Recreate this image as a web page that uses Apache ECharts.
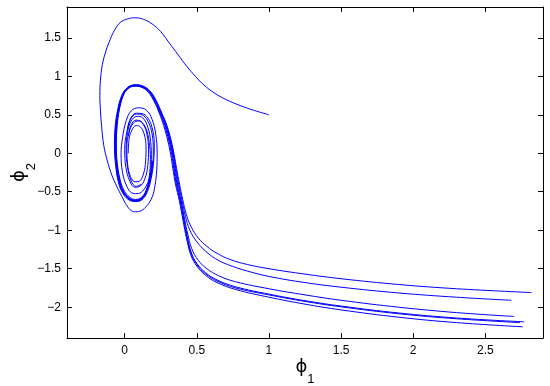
<!DOCTYPE html>
<html>
<head>
<meta charset="utf-8">
<script src="https://cdn.jsdelivr.net/npm/echarts@6/dist/echarts.min.js"></script>
<style>html,body{margin:0;padding:0;background:#fff}#c{width:550px;height:386px}</style>
</head>
<body>
<div id="c"></div>
<script>
var xTicks = [0, 0.5, 1, 1.5, 2, 2.5];
var yTicks = [-2, -1.5, -1, -0.5, 0, 0.5, 1, 1.5];
var xName = 'ϕ1';
var yName = 'ϕ2';

var trajOuter = [[1.00,0.50],[0.90,0.555],[0.80,0.62],[0.70,0.70],[0.62,0.785],[0.55,0.885],[0.49,1.00],[0.43,1.13],[0.37,1.28],[0.31,1.43],[0.25,1.58],[0.19,1.68],[0.13,1.74],[0.075,1.76],[0.02,1.745],[-0.03,1.70],[-0.07,1.60],[-0.10,1.48],[-0.13,1.33],[-0.155,1.15],[-0.168,0.95],[-0.172,0.75],[-0.168,0.55],[-0.16,0.35],[-0.145,0.1],[-0.12,-0.1],[-0.09,-0.28],[-0.055,-0.43],[-0.02,-0.56],[0.015,-0.68],[0.045,-0.745],[0.075,-0.76],[0.115,-0.745],[0.155,-0.68],[0.19,-0.57],[0.21,-0.42],[0.222,-0.22],[0.225,0.0],[0.215,0.25],[0.19,0.44],[0.15,0.56],[0.095,0.59],[0.045,0.55],[0.01,0.42],[-0.015,0.2],[-0.025,0.0],[-0.015,-0.25],[0.015,-0.43],[0.05,-0.515],[0.085,-0.525],[0.125,-0.49],[0.16,-0.38],[0.19,-0.2],[0.198,0.03],[0.19,0.25],[0.16,0.42],[0.12,0.50],[0.08,0.51],[0.04,0.44],[0.015,0.28],[0.0,0.05],[0.008,-0.18],[0.035,-0.36],[0.07,-0.44],[0.105,-0.43],[0.14,-0.33],[0.16,-0.16],[0.165,0.05],[0.155,0.24],[0.13,0.37],[0.095,0.42],[0.06,0.39],[0.03,0.27],[0.015,0.08],[0.02,-0.14],[0.04,-0.30],[0.07,-0.37],[0.1,-0.365],[0.13,-0.27],[0.145,-0.1],[0.148,0.08],[0.135,0.25],[0.11,0.34],[0.08,0.36],[0.05,0.30],[0.03,0.18],[0.025,0.0]];

var trajA = [[2.82,-1.81],[2.3,-1.76],[1.9,-1.705],[1.5,-1.63],[1.25,-1.57],[1.0,-1.50],[0.85,-1.445],[0.73,-1.38],[0.64,-1.30],[0.57,-1.21],[0.51,-1.10],[0.462,-0.96],[0.428,-0.80],[0.402,-0.60],[0.38,-0.40],[0.36,-0.2],[0.343,-0.02],[0.323,0.16],[0.293,0.36],[0.258,0.52],[0.222,0.67],[0.179,0.80],[0.128,0.872],[0.075,0.89],[0.022,0.857],[-0.02,0.752],[-0.049,0.56],[-0.067,0.33],[-0.071,0.1],[-0.063,-0.15],[-0.043,-0.38],[-0.013,-0.52],[0.03,-0.607],[0.076,-0.627],[0.12,-0.603],[0.157,-0.50],[0.183,-0.33],[0.2,-0.12],[0.205,0.12],[0.19,0.33],[0.16,0.46],[0.12,0.515],[0.08,0.52],[0.04,0.45],[0.02,0.30]];

var trajB = [[2.68,-1.91],[2.3,-1.87],[1.9,-1.815],[1.5,-1.74],[1.25,-1.68],[1.0,-1.60],[0.85,-1.53],[0.72,-1.45],[0.63,-1.37],[0.56,-1.27],[0.50,-1.15],[0.452,-1.00],[0.421,-0.82],[0.397,-0.61],[0.374,-0.40],[0.355,-0.2],[0.339,-0.02],[0.319,0.16],[0.289,0.36],[0.255,0.52],[0.219,0.67],[0.177,0.80],[0.126,0.868],[0.074,0.886],[0.022,0.852],[-0.016,0.75],[-0.042,0.57],[-0.058,0.36],[-0.064,0.12],[-0.057,-0.13],[-0.037,-0.36],[-0.008,-0.50],[0.034,-0.59],[0.076,-0.615],[0.115,-0.59],[0.15,-0.48],[0.175,-0.30],[0.185,-0.08],[0.18,0.15],[0.16,0.34],[0.125,0.46],[0.085,0.48],[0.045,0.42],[0.02,0.27],[0.01,0.05],[0.02,-0.18],[0.045,-0.36],[0.08,-0.43],[0.115,-0.40]];

var trajC = [[2.70,-2.12],[2.3,-2.07],[1.9,-2.00],[1.5,-1.91],[1.25,-1.84],[1.0,-1.76],[0.77,-1.67],[0.65,-1.59],[0.57,-1.50],[0.51,-1.39],[0.465,-1.24],[0.437,-1.05],[0.415,-0.85],[0.392,-0.62],[0.368,-0.40],[0.35,-0.2],[0.335,-0.02],[0.315,0.16],[0.285,0.36],[0.252,0.52],[0.216,0.67],[0.174,0.80],[0.124,0.866],[0.072,0.884],[0.02,0.85],[-0.018,0.745],[-0.045,0.56],[-0.062,0.34],[-0.068,0.1],[-0.06,-0.15],[-0.04,-0.37],[-0.01,-0.51],[0.032,-0.60],[0.078,-0.62],[0.118,-0.60],[0.15,-0.49],[0.17,-0.31],[0.178,-0.08],[0.17,0.14],[0.148,0.32],[0.115,0.41],[0.08,0.43],[0.045,0.37],[0.025,0.22]];

var trajD1 = [[2.77,-2.19],[2.3,-2.14],[1.9,-2.075],[1.5,-1.985],[1.25,-1.915],[1.0,-1.83],[0.77,-1.735],[0.64,-1.645],[0.56,-1.55],[0.50,-1.43],[0.46,-1.28],[0.434,-1.08],[0.412,-0.87],[0.388,-0.62],[0.363,-0.40],[0.345,-0.2],[0.331,-0.02],[0.311,0.16],[0.281,0.36],[0.248,0.52],[0.213,0.67],[0.171,0.795],[0.122,0.862],[0.072,0.88],[0.022,0.845],[-0.012,0.74],[-0.038,0.56],[-0.052,0.36],[-0.058,0.12],[-0.052,-0.12],[-0.032,-0.34],[-0.005,-0.48],[0.035,-0.57],[0.075,-0.60],[0.115,-0.575],[0.15,-0.48],[0.176,-0.30],[0.19,-0.1]];

var trajD2 = [[2.74,-2.20],[2.3,-2.15],[1.9,-2.085],[1.5,-1.995],[1.25,-1.925],[1.0,-1.84],[0.77,-1.75],[0.64,-1.66],[0.56,-1.565],[0.50,-1.445],[0.46,-1.30],[0.431,-1.09],[0.409,-0.87],[0.384,-0.62],[0.358,-0.40],[0.34,-0.2],[0.326,-0.02],[0.306,0.16],[0.277,0.36],[0.244,0.52],[0.209,0.67],[0.168,0.79],[0.12,0.855],[0.07,0.87],[0.018,0.83],[-0.02,0.72],[-0.045,0.55],[-0.06,0.33],[-0.065,0.1],[-0.058,-0.14],[-0.04,-0.36],[-0.012,-0.50],[0.03,-0.59],[0.075,-0.615],[0.115,-0.59],[0.152,-0.49],[0.176,-0.31]];

var trajE = [[2.76,-2.255],[2.3,-2.20],[1.9,-2.13],[1.5,-2.035],[1.25,-1.96],[1.0,-1.87],[0.77,-1.77],[0.64,-1.68],[0.56,-1.585],[0.50,-1.465],[0.46,-1.33],[0.428,-1.10],[0.405,-0.88],[0.379,-0.62],[0.352,-0.40],[0.334,-0.2],[0.319,-0.02],[0.299,0.16],[0.27,0.36],[0.24,0.52],[0.205,0.67],[0.165,0.79],[0.12,0.86],[0.07,0.875],[0.02,0.84],[-0.015,0.73],[-0.04,0.55],[-0.055,0.35],[-0.06,0.12],[-0.055,-0.12],[-0.035,-0.35],[-0.01,-0.49],[0.03,-0.58],[0.07,-0.61],[0.11,-0.59],[0.15,-0.50],[0.18,-0.33],[0.195,-0.1]];

var trajectories = [trajOuter, trajA, trajB, trajC, trajD1, trajD2, trajE];

var chart = echarts.init(document.getElementById('c'), null, {renderer: 'canvas'});
var fontFam = 'Liberation Sans, Arial, Helvetica, sans-serif';
function fmt(v) { return String(v).replace('-', '\u2212'); }
var axisLineStyle = {color: '#000', width: 1};
function richName(s) {
  return '{a|' + s.charAt(0) + '}{b|' + s.slice(1) + '}';
}
var rich = {
  a: {fontFamily: 'DejaVu Sans', fontSize: 18, color: '#000', lineHeight: 26, verticalAlign: 'middle'},
  b: {fontFamily: fontFam, fontSize: 13, color: '#000', lineHeight: 26, verticalAlign: 'bottom', padding: [0, 0, -6, 0]}
};

var option = {
  animation: false,
  backgroundColor: '#fff',
  grid: {left: 67, right: 7, top: 7, bottom: 48, containLabel: false, outerBoundsMode: 'none'},
  xAxis: [{
    type: 'value', min: -0.4, max: 2.9, position: 'bottom',
    axisLine: {show: true, onZero: false, lineStyle: axisLineStyle},
    axisTick: {show: true, inside: true, length: 5, customValues: xTicks, lineStyle: axisLineStyle},
    axisLabel: {show: true, customValues: xTicks, formatter: fmt, margin: 7, color: '#000', fontSize: 12, fontFamily: fontFam},
    splitLine: {show: false},
    name: richName(xName), nameLocation: 'middle', nameGap: 16, nameMoveOverlap: false,
    nameTextStyle: {rich: rich}
  }, {
    type: 'value', min: -0.4, max: 2.9, position: 'top',
    axisLine: {show: true, onZero: false, lineStyle: axisLineStyle},
    axisTick: {show: true, inside: true, length: 5, customValues: xTicks, lineStyle: axisLineStyle},
    axisLabel: {show: false, customValues: xTicks},
    splitLine: {show: false}
  }],
  yAxis: [{
    type: 'value', min: -2.4, max: 1.9, position: 'left',
    axisLine: {show: true, onZero: false, lineStyle: axisLineStyle},
    axisTick: {show: true, inside: true, length: 5, customValues: yTicks, lineStyle: axisLineStyle},
    axisLabel: {show: true, customValues: yTicks, formatter: fmt, margin: 6, color: '#000', fontSize: 12, fontFamily: fontFam},
    splitLine: {show: false},
    name: richName(yName), nameLocation: 'middle', nameGap: 35, nameRotate: 90, nameMoveOverlap: false,
    nameTextStyle: {rich: rich}
  }, {
    type: 'value', min: -2.4, max: 1.9, position: 'right',
    axisLine: {show: true, onZero: false, lineStyle: axisLineStyle},
    axisTick: {show: true, inside: true, length: 5, customValues: yTicks, lineStyle: axisLineStyle},
    axisLabel: {show: false, customValues: yTicks},
    splitLine: {show: false}
  }],
  series: trajectories.map(function (d) {
    return {
      type: 'line', data: d, xAxisIndex: 0, yAxisIndex: 0,
      showSymbol: false, smooth: 0.4, sampling: null, clip: true,
      lineStyle: {color: '#0000ff', width: 1},
      emphasis: {disabled: true}, silent: true
    };
  })
};
chart.setOption(option);
</script>
</body>
</html>
